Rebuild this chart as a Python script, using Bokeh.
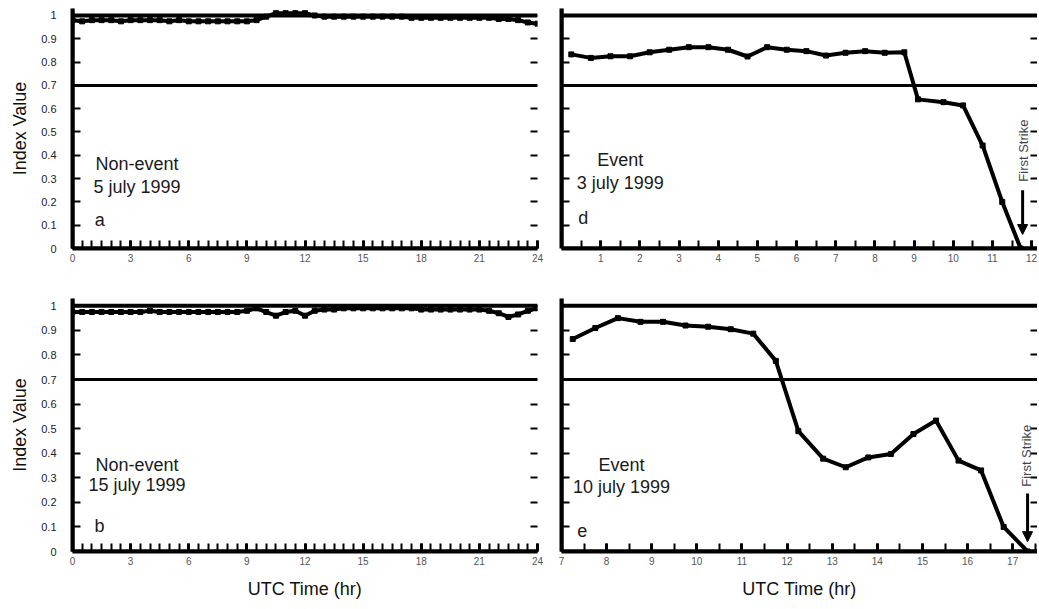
from bokeh.plotting import figure
from bokeh.layouts import column, row
from bokeh.models import (FixedTicker, LinearAxis, Span, Label, Arrow, NormalHead,
                          CustomJSTickFormatter, Range1d)
from bokeh.embed import file_html
from bokeh.resources import INLINE

FONT = "Liberation Sans"

# ---------------- data ----------------
hours_day = [0, 0.5, 1, 1.5, 2, 2.5, 3, 3.5, 4, 4.5, 5, 5.5, 6, 6.5, 7, 7.5, 8, 8.5,
             9, 9.5, 10, 10.5, 11, 11.5, 12, 12.5, 13, 13.5, 14, 14.5, 15, 15.5, 16,
             16.5, 17, 17.5, 18, 18.5, 19, 19.5, 20, 20.5, 21, 21.5, 22, 22.5, 23,
             23.5, 24]

# (a) Non-event 5 July 1999
a_vals = [0.98, 0.975, 0.98, 0.98, 0.98, 0.975, 0.98, 0.98, 0.98, 0.98,
          0.975, 0.98, 0.975, 0.975, 0.975, 0.975, 0.975, 0.975, 0.975, 0.98,
          0.995, 1.01, 1.01, 1.01, 1.01, 1.0,
          0.995, 0.995, 0.995, 0.995, 0.995, 0.995, 0.995, 0.995, 0.995, 0.99,
          0.99, 0.99, 0.99, 0.99, 0.99, 0.99, 0.99, 0.99, 0.985, 0.985, 0.98,
          0.97, 0.965]

# (b) Non-event 15 July 1999
b_vals = [0.975, 0.975, 0.975, 0.975, 0.975, 0.975, 0.975, 0.975, 0.98, 0.975,
          0.975, 0.975, 0.975, 0.975, 0.975, 0.975, 0.975, 0.975,
          0.98, 0.99, 0.975, 0.96, 0.975, 0.98, 0.96, 0.98, 0.985, 0.985,
          0.99, 0.99, 0.99, 0.99, 0.99, 0.99, 0.99, 0.99, 0.985, 0.985, 0.985,
          0.985, 0.985, 0.985, 0.985,
          0.98, 0.97, 0.955, 0.965, 0.98, 0.99]

# (d) Event 3 July 1999
d_hours = [0.25, 0.75, 1.25, 1.75, 2.25, 2.75, 3.25, 3.75, 4.25, 4.75, 5.25, 5.75,
           6.25, 6.75, 7.25, 7.75, 8.25, 8.75, 9.1, 9.75, 10.25, 10.75, 11.25, 11.72]
d_vals = [0.833, 0.818, 0.825, 0.825, 0.842, 0.853, 0.864, 0.864, 0.853, 0.824,
          0.864, 0.853, 0.847, 0.828, 0.84, 0.847, 0.84, 0.842, 0.64, 0.628,
          0.614, 0.442, 0.2, 0.0]

# (e) Event 10 July 1999
e_hours = [7.25, 7.75, 8.25, 8.75, 9.25, 9.75, 10.25, 10.75, 11.25, 11.75, 12.25,
           12.8, 13.3, 13.8, 14.3, 14.8, 15.3, 15.8, 16.3, 16.8, 17.33]
e_vals = [0.865, 0.91, 0.95, 0.935, 0.935, 0.92, 0.915, 0.905, 0.887, 0.776, 0.49,
          0.378, 0.343, 0.383, 0.397, 0.478, 0.533, 0.37, 0.33, 0.1, 0.0]

y_ticks = [0, 0.1, 0.2, 0.3, 0.4, 0.5, 0.6, 0.7, 0.8, 0.9, 1.0]
threshold = 0.7

day_major = [0, 3, 6, 9, 12, 15, 18, 21, 24]
d_major = [1, 2, 3, 4, 5, 6, 7, 8, 9, 10, 11, 12]
e_major = [7, 8, 9, 10, 11, 12, 13, 14, 15, 16, 17]
day_minor = hours_day
d_minor = [0.5, 1, 1.5, 2, 2.5, 3, 3.5, 4, 4.5, 5, 5.5, 6, 6.5, 7, 7.5, 8, 8.5, 9,
           9.5, 10, 10.5, 11, 11.5, 12]
e_minor = [7.5, 8, 8.5, 9, 9.5, 10, 10.5, 11, 11.5, 12, 12.5, 13, 13.5, 14, 14.5,
           15, 15.5, 16, 16.5, 17, 17.5]

BLANK = "return '';"


def make_panel(width, height, xr, borders, left_labels, xtitle, xmajor, xminor,
               hx, hy, texts, letter, strike=None):
    bl, br, bt, bb = borders
    p = figure(width=width, height=height, x_range=Range1d(*xr),
               y_range=Range1d(0, 1.03), output_backend="svg",
               toolbar_location=None, tools="",
               min_border_left=bl, min_border_right=br,
               min_border_top=bt, min_border_bottom=bb)
    p.outline_line_color = None
    p.grid.visible = False
    p.background_fill_color = "white"
    p.border_fill_color = "white"

    xa = p.xaxis[0]
    xa.ticker = FixedTicker(ticks=xmajor, minor_ticks=xminor)
    xa.axis_line_width = 4
    xa.axis_line_color = "black"
    xa.major_tick_in = 8
    xa.major_tick_out = 0
    xa.major_tick_line_width = 3
    xa.minor_tick_in = 8
    xa.minor_tick_out = 0
    xa.minor_tick_line_width = 2
    xa.major_label_text_font = FONT
    xa.major_label_text_font_size = "10px"
    xa.major_label_text_color = "#555555"
    xa.major_label_standoff = 5
    if xtitle:
        xa.axis_label = xtitle
        xa.axis_label_text_font = FONT
        xa.axis_label_text_font_size = "18px"
        xa.axis_label_text_font_style = "normal"
        xa.axis_label_text_color = "#111111"
        xa.axis_label_standoff = 11

    ya = p.yaxis[0]
    ya.ticker = FixedTicker(ticks=y_ticks, minor_ticks=[])
    ya.axis_line_width = 4
    ya.axis_line_color = "black"
    ya.major_tick_in = 8
    ya.major_tick_out = 0
    ya.major_tick_line_width = 2
    ya.minor_tick_line_color = None
    if left_labels:
        ya.formatter = CustomJSTickFormatter(
            code="return (tick < 0.001 || tick > 0.999) ? tick.toFixed(0) : tick.toFixed(1);")
        ya.major_label_text_font = FONT
        ya.major_label_text_font_size = "11px"
        ya.major_label_text_color = "#222222"
        ya.major_label_standoff = 16
        ya.axis_label = "Index Value"
        ya.axis_label_text_font = FONT
        ya.axis_label_text_font_size = "18px"
        ya.axis_label_text_font_style = "normal"
        ya.axis_label_text_color = "#111111"
        ya.axis_label_standoff = 8
    else:
        ya.formatter = CustomJSTickFormatter(code=BLANK)
        ya.major_label_standoff = 0

    ra = LinearAxis(ticker=FixedTicker(ticks=y_ticks, minor_ticks=[]),
                    formatter=CustomJSTickFormatter(code=BLANK),
                    axis_line_color=None, major_tick_in=7, major_tick_out=0,
                    major_tick_line_width=2, minor_tick_line_color=None,
                    major_label_standoff=0)
    p.add_layout(ra, "right")

    # heavy frame lines: left spine, bottom spine, top border at 1, threshold
    p.add_layout(Span(location=xr[0], dimension="height", line_color="black", line_width=4))
    p.add_layout(Span(location=0.0, dimension="width", line_color="black", line_width=4))
    p.add_layout(Span(location=1.0, dimension="width", line_color="black", line_width=4))
    p.add_layout(Span(location=threshold, dimension="width", line_color="black", line_width=3))

    p.line(hx, hy, line_color="black", line_width=4)
    p.scatter(hx, hy, marker="square", size=5, color="black")

    (cx, l1y, l1), (_, l2y, l2) = texts
    p.add_layout(Label(x=cx, y=l1y, text=l1, text_align="center", text_font=FONT,
                       text_font_size="18px", text_color="#1a1a1a"))
    p.add_layout(Label(x=cx, y=l2y, text=l2, text_align="center", text_font=FONT,
                       text_font_size="18px", text_color="#1a1a1a"))
    lx, ly, lt = letter
    p.add_layout(Label(x=lx, y=ly, text=lt, text_align="left", text_font=FONT,
                       text_font_size="18px", text_color="#1a1a1a"))

    if strike is not None:
        sx, sy0, sy1, tx, ty = strike
        p.add_layout(Arrow(end=NormalHead(size=10, fill_color="black", line_color="black"),
                           x_start=sx, y_start=sy0, x_end=sx, y_end=sy1,
                           line_width=3, line_color="black"))
        p.add_layout(Label(x=tx, y=ty, text="First Strike", angle=1.5708,
                           angle_units="rad", text_align="center",
                           text_baseline="middle", text_font=FONT,
                           text_font_size="13px", text_color="#444444"))
    return p


LW, RW = 549, 488
TH, BH = 290, 313

pa = make_panel(LW, TH, (0, 24), (72, 12, 8, 42), True, None, day_major, day_minor,
                hours_day, a_vals,
                ((3.33, 0.32, "Non-event"), (3.33, 0.22, "5 july 1999")),
                (1.15, 0.08, "a"))
pd_ = make_panel(RW, TH, (0, 12.15), (12, 0, 8, 42), False, None, d_major, d_minor,
                 d_hours, d_vals,
                 ((1.5, 0.335, "Event"), (1.5, 0.24, "3 july 1999")),
                 (0.43, 0.09, "d"),
                 strike=(11.77, 0.25, 0.06, 11.79, 0.42))
pb = make_panel(LW, BH, (0, 24), (72, 12, 8, 52), True, "UTC Time (hr)", day_major,
                day_minor, hours_day, b_vals,
                ((3.33, 0.31, "Non-event"), (3.33, 0.232, "15 july 1999")),
                (1.14, 0.065, "b"))
pe = make_panel(RW, BH, (7, 17.55), (12, 0, 8, 52), False, "UTC Time (hr)", e_major,
                e_minor, e_hours, e_vals,
                ((8.33, 0.31, "Event"), (8.33, 0.22, "10 july 1999")),
                (7.35, 0.06, "e"),
                strike=(17.33, 0.236, 0.04, 17.3, 0.39))

layout = column(row(pa, pd_), row(pb, pe))

with open("out.html", "w") as f:
    f.write(file_html(layout, INLINE))
